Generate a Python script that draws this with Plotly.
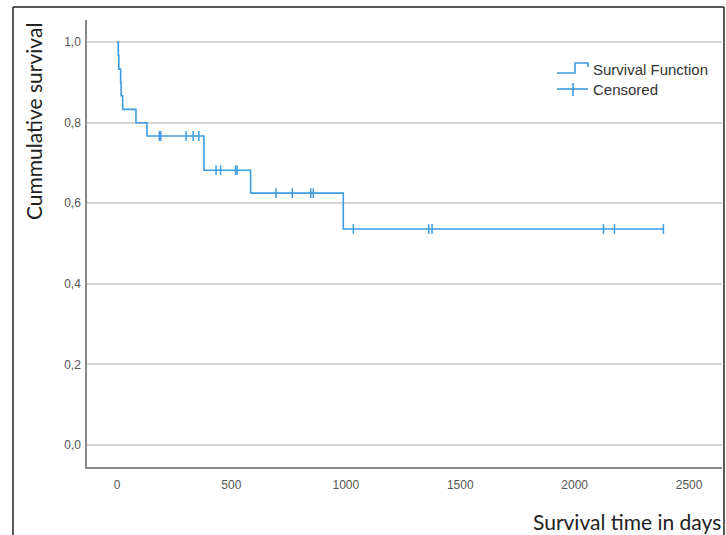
import plotly.graph_objects as go

# Kaplan-Meier step points (time in days, cumulative survival)
step_times = [0, 6, 8, 16, 18, 25, 83, 131, 380, 584, 989, 2388]
step_surv = [1.0, 0.967, 0.933, 0.900, 0.867, 0.833, 0.800, 0.767, 0.682, 0.625, 0.536, 0.536]

# Censored observations
cens_times = [185, 192, 302, 333, 358, 433, 453, 518, 525, 695, 766, 847, 858,
              1033, 1362, 1377, 2126, 2174, 2388]
cens_surv = [0.767] * 5 + [0.682] * 4 + [0.625] * 4 + [0.536] * 6

x_ticks = [0, 500, 1000, 1500, 2000, 2500]
y_ticks = [0.0, 0.2, 0.4, 0.6, 0.8, 1.0]

BLUE = "#3d9be0"

fig = go.Figure()
fig.add_trace(go.Scatter(x=step_times, y=step_surv, mode="lines", line_shape="hv",
                         line=dict(color=BLUE, width=1.6), showlegend=False,
                         name="Survival Function"))
fig.add_trace(go.Scatter(x=cens_times, y=cens_surv, mode="markers",
                         marker=dict(symbol="line-ns", size=7,
                                     line=dict(color=BLUE, width=1.5)),
                         showlegend=False, name="Censored"))

W, H = 726, 535
L, R, T, B = 87, 4, 20, 68
pw, ph = W - L - R, H - T - B


def px(x):
    return (x - L) / pw


def py(y):
    return (H - B - y) / ph


shapes = [
    # outer frame
    dict(type="line", xref="paper", yref="paper", x0=px(13), x1=px(13), y0=py(7), y1=py(560),
         line=dict(color="#222", width=1.5)),
    dict(type="line", xref="paper", yref="paper", x0=px(13), x1=px(724), y0=py(7), y1=py(7),
         line=dict(color="#222", width=1.5)),
    dict(type="line", xref="paper", yref="paper", x0=px(724), x1=px(724), y0=py(7), y1=py(560),
         line=dict(color="#222", width=1.5)),
    # legend: step glyph
    dict(type="path", xref="paper", yref="paper",
         path=f"M {px(557)},{py(73)} L {px(575)},{py(73)} L {px(575)},{py(63)} L {px(588)},{py(63)} L {px(588)},{py(67)}",
         line=dict(color=BLUE, width=1.6)),
    # legend: censored glyph
    dict(type="line", xref="paper", yref="paper", x0=px(557), x1=px(588), y0=py(89), y1=py(89),
         line=dict(color=BLUE, width=1.6)),
    dict(type="line", xref="paper", yref="paper", x0=px(573), x1=px(573), y0=py(83), y1=py(96),
         line=dict(color=BLUE, width=1.6)),
]

annotations = [
    dict(text="Survival Function", xref="paper", yref="paper", x=px(591), y=py(69),
         xanchor="left", yanchor="middle", showarrow=False,
         font=dict(family="Liberation Sans, Arial", size=15, color="#333")),
    dict(text="Censored", xref="paper", yref="paper", x=px(591), y=py(89),
         xanchor="left", yanchor="middle", showarrow=False,
         font=dict(family="Liberation Sans, Arial", size=15, color="#333")),
    dict(text="Cummulative survival", xref="paper", yref="paper", x=px(33), y=py(122),
         xanchor="center", yanchor="middle", textangle=-90, showarrow=False,
         font=dict(family="Lato, Open Sans", size=21, color="#222")),
    dict(text="Survival time in days", xref="paper", yref="paper", x=px(723), y=py(521),
         xanchor="right", yanchor="middle", showarrow=False,
         font=dict(family="Lato, Open Sans", size=21, color="#222")),
]

fig.update_layout(
    width=W, height=H,
    margin=dict(l=L, r=R, t=T, b=B, autoexpand=False),
    paper_bgcolor="white", plot_bgcolor="white",
    separators=",.",
    shapes=shapes, annotations=annotations,
    xaxis=dict(range=[-131, 2644], tickvals=x_ticks, showgrid=False, zeroline=False,
               showline=True, linecolor="#888", linewidth=1.5,
               ticks="outside", ticklen=6, tickcolor="rgba(0,0,0,0)",
               tickfont=dict(family="Liberation Sans, Arial", size=12, color="#555")),
    yaxis=dict(range=[-0.055, 1.055], tickvals=y_ticks, tickformat=".1f",
               showgrid=True, gridcolor="#d4d4d4", gridwidth=1.5, zeroline=False,
               showline=True, linecolor="#888", linewidth=1.5,
               ticks="outside", ticklen=2, tickcolor="rgba(0,0,0,0)",
               tickfont=dict(family="Liberation Sans, Arial", size=12, color="#555")),
)

fig.write_html("out.html", config={"displayModeBar": False},
               post_script="document.body.style.margin='0px';")
